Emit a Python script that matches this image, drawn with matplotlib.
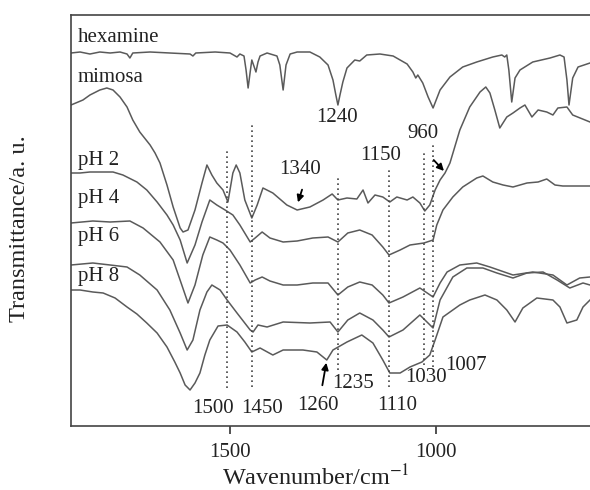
import numpy as np
import matplotlib
matplotlib.use("Agg")
import matplotlib.pyplot as plt

plt.rcParams['font.family'] = ['Liberation Serif', 'DejaVu Serif']
plt.rcParams['mathtext.fontset'] = 'stix'

# spectra: wavenumber (cm-1) and transmittance (a.u., stacked)
hex_w = [1886, 1864, 1840, 1816, 1791, 1767, 1750, 1743, 1736, 1694, 1646, 1597, 1590, 1583, 1536, 1500,
         1483, 1476, 1466, 1461, 1456, 1451, 1447, 1442, 1437, 1432, 1427, 1410, 1386, 1379, 1371, 1364,
         1354, 1337, 1306, 1282, 1262, 1250, 1243, 1238, 1233, 1226, 1216, 1197, 1185, 1168, 1136, 1104,
         1070, 1056, 1049, 1044, 1032, 1019, 1007, 990, 966, 935, 901, 862, 840, 833, 828, 823, 816, 808,
         796, 765, 723, 699, 689, 682, 677, 668, 655, 626]
hex_t = [373, 374, 372, 374, 373, 374, 372, 368, 373, 374, 373, 372, 370, 373, 374, 373,
         369, 372, 370, 356, 338, 354, 366, 360, 354, 364, 370, 373, 370, 361, 336, 361,
         372, 374, 374, 369, 361, 346, 331, 321, 331, 344, 358, 366, 365, 371, 372, 370,
         362, 354, 348, 351, 343, 329, 318, 336, 349, 359, 364, 369, 371, 369, 371, 356, 324, 348,
         356, 364, 368, 371, 369, 346, 321, 348, 359, 363]

mim_w = [1886, 1857, 1840, 1816, 1799, 1784, 1767, 1750, 1736, 1719, 1694, 1682, 1670, 1653, 1638, 1621,
         1614, 1602, 1585, 1568, 1556, 1544, 1532, 1517, 1505, 1493, 1485, 1476, 1464, 1447, 1434, 1420,
         1396, 1362, 1337, 1306, 1274, 1252, 1238, 1216, 1192, 1177, 1165, 1148, 1129, 1112, 1095, 1070,
         1056, 1039, 1027, 1015, 1002, 990, 978, 966, 942, 918, 893, 879, 869, 857, 845, 828, 813, 796,
         784, 767, 752, 731, 716, 704, 682, 668, 626]
mim_t = [321, 326, 331, 336, 338, 336, 329, 319, 306, 294, 281, 273, 263, 241, 219, 198,
         194, 196, 216, 243, 261, 251, 243, 236, 224, 253, 261, 253, 226, 208, 221, 238,
         233, 221, 216, 219, 226, 232, 226, 228, 227, 236, 223, 231, 229, 224, 229, 226,
         229, 223, 215, 221, 236, 246, 253, 263, 296, 319, 334, 339, 333, 316, 298, 309, 313, 318,
         321, 309, 316, 314, 311, 318, 319, 311, 304]

ph2_w = [1886, 1864, 1840, 1808, 1784, 1760, 1726, 1702, 1677, 1653, 1638, 1621, 1604, 1585, 1568, 1549,
         1532, 1512, 1493, 1476, 1451, 1439, 1422, 1403, 1371, 1337, 1299, 1262, 1238, 1214, 1185, 1155,
         1129, 1114, 1087, 1063, 1029, 1007, 998, 983, 959, 935, 901, 886, 862, 837, 813, 779, 752, 731,
         711, 692, 626]
ph2_t = [253, 253, 254, 254, 254, 251, 244, 236, 224, 211, 201, 186, 163, 181, 204, 226,
         221, 216, 211, 201, 184, 188, 194, 188, 184, 185, 188, 189, 184, 193, 196, 191,
         179, 171, 176, 181, 183, 186, 201, 216, 229, 239, 248, 250, 244, 241, 239, 243, 244, 247,
         241, 240, 240]

ph4_w = [1886, 1833, 1791, 1743, 1711, 1670, 1638, 1617, 1602, 1585, 1566, 1549, 1532, 1517, 1500, 1476,
         1451, 1439, 1422, 1403, 1371, 1337, 1299, 1262, 1238, 1214, 1185, 1155, 1129, 1114, 1080, 1039,
         1007, 990, 973, 942, 901, 869, 813, 765, 716, 682, 651, 626]
ph4_t = [203, 205, 204, 205, 198, 184, 166, 141, 123, 141, 171, 189, 186, 183, 176, 161,
         143, 146, 149, 145, 141, 141, 143, 143, 131, 139, 144, 141, 131, 123, 129, 138,
         129, 143, 154, 161, 163, 159, 151, 154, 151, 141, 148, 149]

ph6_w = [1886, 1833, 1791, 1750, 1719, 1677, 1646, 1621, 1604, 1590, 1573, 1556, 1544, 1524, 1507, 1483,
         1451, 1444, 1432, 1410, 1371, 1306, 1257, 1238, 1214, 1185, 1153, 1129, 1114, 1080, 1039, 1007,
         990, 959, 925, 886, 852, 813, 779, 740, 706, 675, 643, 626]
ph6_t = [161, 163, 161, 159, 151, 136, 116, 93, 76, 86, 116, 134, 141, 136, 126, 113,
         96, 94, 101, 99, 104, 103, 104, 94, 106, 113, 106, 96, 89, 96, 111, 98,
         126, 149, 158, 158, 153, 148, 153, 154, 146, 138, 143, 141]

ph8_w = [1886, 1864, 1833, 1808, 1779, 1750, 1726, 1702, 1677, 1653, 1634, 1621, 1609, 1597, 1585, 1573,
         1561, 1549, 1529, 1507, 1483, 1464, 1447, 1427, 1396, 1371, 1323, 1289, 1265, 1250, 1216, 1180,
         1153, 1129, 1112, 1087, 1063, 1034, 1015, 1002, 983, 942, 918, 881, 852, 828, 808, 789, 755, 716,
         699, 682, 658, 643, 626]
ph8_t = [136, 136, 134, 133, 128, 119, 112, 103, 93, 79, 64, 53, 41, 36, 43, 53,
         71, 86, 100, 101, 94, 84, 74, 78, 71, 76, 76, 74, 66, 76, 84, 91,
         83, 66, 53, 53, 59, 64, 71, 86, 109, 121, 126, 131, 126, 116, 104, 118, 128, 126,
         119, 103, 106, 119, 126]

spectra = [(hex_w, hex_t), (mim_w, mim_t), (ph2_w, ph2_t), (ph4_w, ph4_t), (ph6_w, ph6_t), (ph8_w, ph8_t)]
names = ["hexamine", "mimosa", "pH 2", "pH 4", "pH 6", "pH 8"]
name_t = [388, 349, 266, 228, 189, 149]

# dotted marker lines: position, bottom, top
mark_w = [1508, 1447, 1237, 1113, 1029, 1008]
mark_lo = [38, 39, 56, 39, 61, 59]
mark_hi = [276, 301, 248, 258, 276, 281]

# band labels: text, x, y
band_txt = ["1240", "960", "1150", "1340", "1500", "1450", "1260", "1235", "1110", "1030", "1007"]
band_x = [1240, 1032, 1134, 1330, 1541, 1422, 1286, 1202, 1095, 1024, 927]
band_y = [309, 293, 270, 256, 18, 18, 21, 43, 21, 48, 61]

# arrows: (tail, head)
arrows = [((1323, 239), (1337, 221)), ((1010, 268), (976, 253)), ((1277, 38), (1265, 66))]

fig = plt.figure(figsize=(5.9, 4.9), dpi=100)
ax = fig.add_axes([71 / 590, 64 / 490, 519 / 590, 411 / 490])

for w, t in spectra:
    ax.plot(w, t, color="#5a5a5a", lw=1.1)

for x, lo, hi in zip(mark_w, mark_lo, mark_hi):
    ax.plot([x, x], [lo, hi], color="#444444", lw=1.2, ls=(0, (1, 2)))

for s, y in zip(names, name_t):
    ax.text(1870, y, s, fontsize=15, ha="left", va="center", color="#222222")

for s, x, y in zip(band_txt, band_x, band_y):
    ax.text(x, y, s, fontsize=15, ha="center", va="center", color="#222222")

for tail, head in arrows:
    ax.annotate("", xy=head, xytext=tail,
                arrowprops=dict(arrowstyle="-|>", color="black", lw=1.3, mutation_scale=10))

ax.set_xlim(1886, 626)
ax.set_ylim(0, 411)
ax.set_xticks([1500, 1000])
ax.set_yticks([])
ax.tick_params(axis="x", direction="out", length=6, width=1.1, labelsize=15, pad=6, colors="#222222")
for side in ["left", "top", "bottom"]:
    ax.spines[side].set_linewidth(1.2)
    ax.spines[side].set_color("#444444")
ax.spines["right"].set_visible(False)

fig.text(316 / 590, 1 - 478 / 490, "Wavenumber/cm$^{-1}$", fontsize=17.5, ha="center", va="center", color="#222222")
fig.text(20 / 590, 1 - 229 / 490, "Transmittance/a. u.", fontsize=17.5, ha="center", va="center",
         rotation=90, color="#222222")

fig.savefig("out.png", dpi=100)
